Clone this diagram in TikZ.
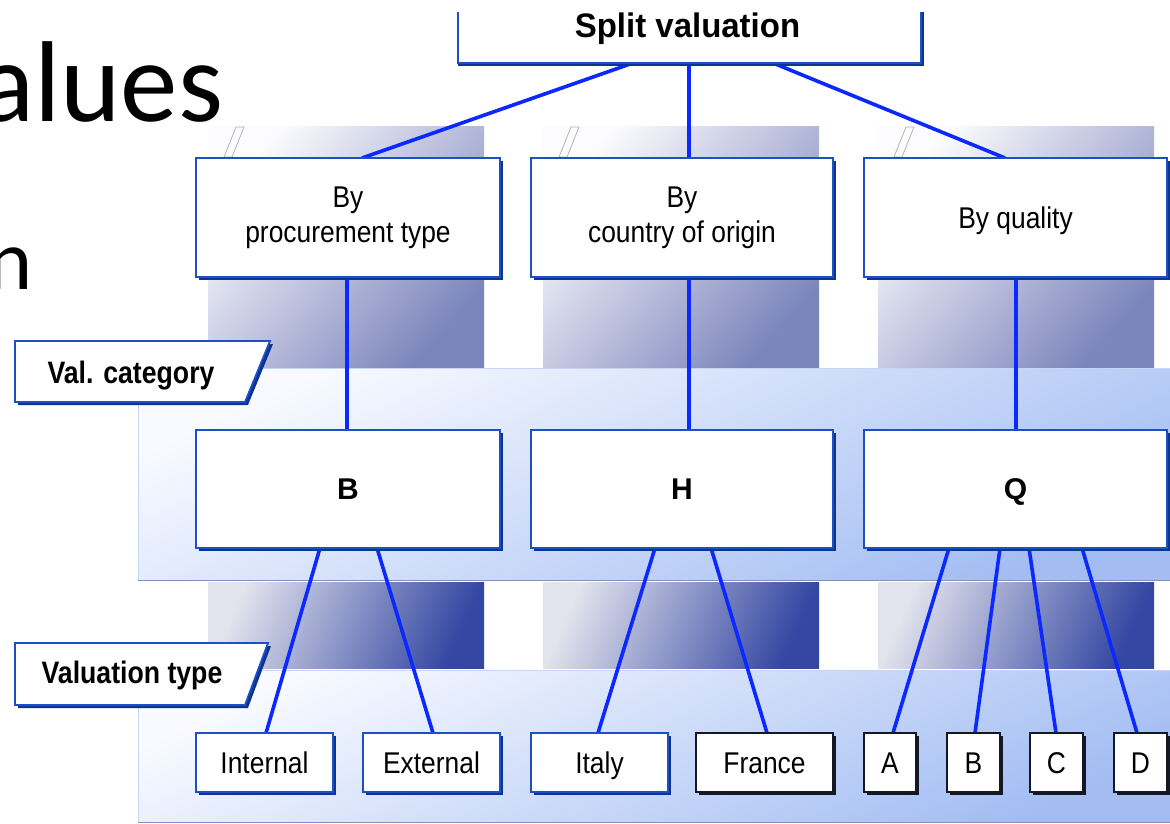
\documentclass[tikz,border=0pt]{standalone}
\usepackage{fontspec}
\setmainfont{Liberation Sans}
\newfontfamily\calibri{Carlito}
\usepackage{graphicx}
\usetikzlibrary{shadows}
\pgfdeclarelayer{back}
\pgfdeclarelayer{lines}
\pgfsetlayers{back,lines,main}

\definecolor{boxblue}{HTML}{1E4FC4}
\definecolor{boxshadow}{HTML}{0B3592}
\definecolor{darkline}{HTML}{141824}
\definecolor{connblue}{HTML}{0A28FF}
\definecolor{colA}{HTML}{FCFCFE}
\definecolor{colB}{HTML}{7C85BC}
\definecolor{colC}{HTML}{E2E3ED}
\definecolor{colD}{HTML}{3447A2}
\definecolor{bandA}{HTML}{F8FAFF}
\definecolor{bandB}{HTML}{A3BDF3}
\definecolor{bandedge}{HTML}{C6D6F6}
\definecolor{bandbottom}{HTML}{8193BB}
\definecolor{markgray}{HTML}{B4B4B8}

\newcommand{\hs}[1]{\scalebox{0.88}[1]{#1}}
\newcommand{\hb}[1]{\scalebox{0.86}[1]{#1}}

\begin{document}
\begin{tikzpicture}[x=1pt,y=-1pt,
  boxcore/.style={fill=white, line width=1.8pt, inner sep=0pt, outer sep=0pt, align=center,
    font=\fontsize{30}{35}\selectfont},
  box/.style={boxcore, draw=boxblue,
    drop shadow={shadow xshift=3pt, shadow yshift=-3pt, fill=boxshadow, opacity=1}},
  blackbox/.style={boxcore, draw=darkline,
    drop shadow={shadow xshift=3pt, shadow yshift=-3pt, fill=darkline, opacity=1}},
  oneline/.style={text height=21.5pt, text depth=0pt},
  lvlone/.style={minimum height=119pt},
  lvltwo/.style={minimum height=118pt, oneline, font=\bfseries\fontsize{30}{35}\selectfont},
  lvlthree/.style={minimum height=59pt, oneline},
  conn/.style={draw=connblue, line width=3.6pt},
  tabshape/.style={fill=white, draw=boxblue, line width=1.8pt,
    drop shadow={shadow xshift=3pt, shadow yshift=-3pt, fill=boxshadow, opacity=1}},
  tabtext/.style={anchor=base, inner sep=0pt, font=\bfseries\fontsize{31}{36}\selectfont},
  colmark/.style={draw=markgray, line width=0.8pt}
]
\useasboundingbox (0,0) rectangle (1170,824);
\clip (0,0) rectangle (1170,824);

% ---------- background: columns and bands ----------
\begin{pgfonlayer}{back}
  \fill[white] (0,0) rectangle (1170,824);
  \foreach \cx in {208,543,878}{
    \shade[top color=colA, bottom color=colB, shading angle=48] (\cx,127) rectangle (\cx+276,368);
    \shade[top color=colC, bottom color=colD, shading angle=66] (\cx,582) rectangle (\cx+276,668);
    \draw[colmark] (\cx+16,157) -- (\cx+28,127) -- (\cx+36,127) -- (\cx+24,157) -- cycle;
  }
  % band 1
  \shade[top color=bandA, bottom color=bandB, shading angle=25] (138,368) rectangle (1175,580);
  \draw[bandedge, line width=1pt] (1175,368) -- (138,368) -- (138,580);
  \draw[bandbottom, line width=1.2pt] (138,580.5) -- (1175,580.5);
  % band 2
  \shade[top color=bandA, bottom color=bandB, shading angle=25] (138,670) rectangle (1175,822);
  \draw[bandedge, line width=1pt] (1175,670) -- (138,670) -- (138,822);
  \draw[bandbottom, line width=1.2pt] (138,822.5) -- (1175,822.5);
\end{pgfonlayer}

% ---------- slide text fragments ----------
\node[anchor=base west, inner sep=0pt, font=\calibri\fontsize{115}{115}\selectfont] (title) at (-21,122) {alues};
\node[anchor=base west, inner sep=0pt, font=\calibri\fontsize{86}{86}\selectfont] (bullet) at (-13,289) {n};

% ---------- side tabs ----------
\path[tabshape] (15,341) -- (270,341) -- (245,402) -- (15,402) -- cycle;
\node[tabtext] (valcat) at (131,383) {\hb{Val. category}};
\path[tabshape] (15,643) -- (268,643) -- (245,705) -- (15,705) -- cycle;
\node[tabtext] (valtype) at (132,683) {\hb{Valuation type}};

% ---------- top box ----------
\node[fill=white, inner sep=0pt, outer sep=0pt, minimum width=463pt, minimum height=51pt] (split) at (689.5,37.5) {};
\draw[boxshadow, line width=2.4pt] ([xshift=2pt]split.north east) -- ([xshift=2pt,yshift=-2pt]split.south east) -- ([yshift=-2pt]split.south west);
\draw[boxblue, line width=1.8pt] (split.north west) -- (split.south west) -- (split.south east) -- (split.north east);
\node[anchor=base, inner sep=0pt, font=\bfseries\fontsize{34}{40}\selectfont] (splitlabel) at (687.5,38) {\scalebox{0.97}[1]{Split valuation}};

% ---------- level 1 ----------
\node[box, lvlone, minimum width=304pt] (p1) at (348,217.5) {\hs{By}\\\hs{procurement type}};
\node[box, lvlone, minimum width=302pt] (p2) at (682,217.5) {\hs{By}\\\hs{country of origin}};
\node[box, lvlone, oneline, minimum width=303pt] (p3) at (1015.5,217.5) {\hs{By quality}};

% ---------- level 2 ----------
\node[box, lvltwo, minimum width=304pt] (cB) at (348,489) {B};
\node[box, lvltwo, minimum width=302pt] (cH) at (682,489) {H};
\node[box, lvltwo, minimum width=303pt] (cQ) at (1015.5,489) {Q};

% ---------- level 3 ----------
\node[box, lvlthree, minimum width=137pt] (tint) at (264.5,762.5) {\hs{Internal}};
\node[box, lvlthree, minimum width=137pt] (text) at (431.5,762.5) {\hs{External}};
\node[box, lvlthree, minimum width=137pt] (tita) at (599.5,762.5) {\hs{Italy}};
\node[blackbox, lvlthree, minimum width=137pt] (tfra) at (764.5,762.5) {\hs{France}};
\node[blackbox, lvlthree, minimum width=52pt] (tA) at (890,762.5) {\hs{A}};
\node[blackbox, lvlthree, minimum width=53pt] (tB) at (973.5,762.5) {\hs{B}};
\node[blackbox, lvlthree, minimum width=53pt] (tC) at (1056.5,762.5) {\hs{C}};
\node[blackbox, lvlthree, minimum width=53pt] (tD) at (1140.5,762.5) {\hs{D}};

% ---------- connectors ----------
\begin{pgfonlayer}{lines}
  \draw[conn] ([xshift=-56.5pt]split.south) -- ([xshift=14pt]p1.north);
  \draw[conn] ([xshift=-0.5pt]split.south) -- ([xshift=7pt]p2.north);
  \draw[conn] ([xshift=83.5pt]split.south) -- ([xshift=-10.5pt]p3.north);
  \draw[conn] ([xshift=-1pt]p1.south) -- ([xshift=-1pt]cB.north);
  \draw[conn] ([xshift=7pt]p2.south) -- ([xshift=7pt]cH.north);
  \draw[conn] ([xshift=0.5pt]p3.south) -- ([xshift=0.5pt]cQ.north);
  \draw[conn] ([xshift=-28pt]cB.south) -- ([xshift=1.5pt]tint.north);
  \draw[conn] ([xshift=29pt]cB.south) -- ([xshift=1.5pt]text.north);
  \draw[conn] ([xshift=-27pt]cH.south) -- ([xshift=-1.5pt]tita.north);
  \draw[conn] ([xshift=29pt]cH.south) -- ([xshift=2.5pt]tfra.north);
  \draw[conn] ([xshift=-66.5pt]cQ.south) -- ([xshift=3pt]tA.north);
  \draw[conn] ([xshift=-15.5pt]cQ.south) -- ([xshift=1.5pt]tB.north);
  \draw[conn] ([xshift=13.5pt]cQ.south) -- ([xshift=-0.5pt]tC.north);
  \draw[conn] ([xshift=66.5pt]cQ.south) -- ([xshift=-3.5pt]tD.north);
\end{pgfonlayer}
\end{tikzpicture}
\end{document}
